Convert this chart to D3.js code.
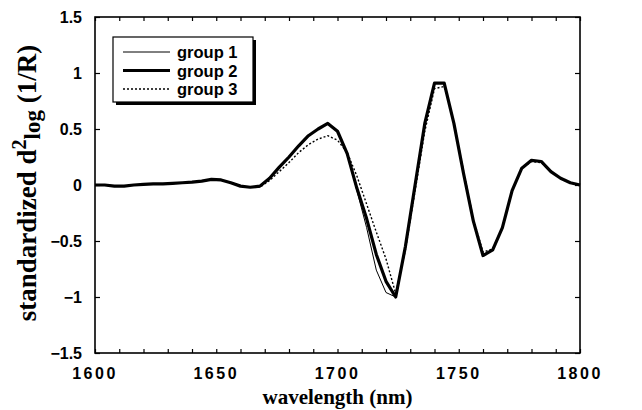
<!DOCTYPE html>
<html><head><meta charset="utf-8">
<script src="https://cdn.jsdelivr.net/npm/d3@7"></script>
<style>body{margin:0;background:#fff}</style>
</head><body>
<svg id="c" width="642" height="410"></svg>
<script>
const wavelength = [1600,1604,1608,1612,1616,1620,1624,1628,1632,1636,1640,1644,1648,1652,1656,1660,1664,1668,1672,1676,1680,1684,1688,1692,1696,1700,1704,1708,1712,1716,1720,1724,1728,1732,1736,1740,1744,1748,1752,1756,1760,1764,1768,1772,1776,1780,1784,1788,1792,1796,1800];
const group1 = [0,0,-0.01,-0.01,0,0.005,0.01,0.01,0.015,0.02,0.025,0.035,0.05,0.045,0.02,-0.01,-0.02,-0.01,0.06,0.16,0.25,0.35,0.44,0.5,0.55,0.48,0.28,-0.05,-0.38,-0.76,-0.96,-1.0,-0.55,0.0,0.55,0.91,0.91,0.55,0.1,-0.32,-0.63,-0.58,-0.38,-0.05,0.15,0.22,0.21,0.12,0.06,0.02,0.0];
const group2 = [0,0,-0.01,-0.01,0,0.005,0.01,0.01,0.015,0.02,0.025,0.035,0.05,0.045,0.02,-0.01,-0.02,-0.01,0.06,0.16,0.25,0.35,0.44,0.5,0.55,0.48,0.28,-0.03,-0.3,-0.62,-0.86,-1.0,-0.55,0.0,0.55,0.91,0.91,0.55,0.1,-0.32,-0.63,-0.58,-0.38,-0.05,0.15,0.22,0.21,0.12,0.06,0.02,0.0];
const group3 = [0,0,-0.01,-0.01,0,0.005,0.01,0.01,0.015,0.02,0.025,0.035,0.05,0.045,0.02,-0.01,-0.02,-0.02,0.04,0.12,0.2,0.29,0.36,0.41,0.44,0.4,0.29,0.08,-0.17,-0.42,-0.66,-0.97,-0.58,-0.05,0.48,0.86,0.88,0.56,0.12,-0.3,-0.6,-0.57,-0.38,-0.05,0.15,0.21,0.2,0.12,0.06,0.02,0.0];
const seriesNames = ["group 1","group 2","group 3"];
const xTicks = [1600,1650,1700,1750,1800];
const yTicks = [-1.5,-1,-0.5,0,0.5,1,1.5];

const svg = d3.select("#c");
const L=95, R=580, T=17, B=353;
const x = d3.scaleLinear().domain([1600,1800]).range([L,R]);
const y = d3.scaleLinear().domain([-1.5,1.5]).range([B,T]);

const fmtY = d => d===0 ? "0" : (d<0 ? "\u2212" : "") + Math.abs(d);
const minorX = d3.range(1600,1801,10);
svg.append("g").attr("transform",`translate(0,${B})`)
  .call(d3.axisBottom(x).tickValues(minorX).tickSizeInner(-4).tickSizeOuter(0).tickFormat(""))
  .call(g=>g.select(".domain").remove());
svg.append("g").attr("transform",`translate(0,${T})`)
  .call(d3.axisTop(x).tickValues(minorX).tickSizeInner(-4).tickSizeOuter(0).tickFormat(""))
  .call(g=>g.select(".domain").remove());
svg.append("g").attr("transform",`translate(${L},0)`)
  .call(d3.axisLeft(y).tickValues(yTicks).tickSizeInner(-5).tickSizeOuter(0).tickFormat(""))
  .call(g=>g.select(".domain").remove());
svg.append("g").attr("transform",`translate(${R},0)`)
  .call(d3.axisRight(y).tickValues(yTicks).tickSizeInner(-5).tickSizeOuter(0).tickFormat(""))
  .call(g=>g.select(".domain").remove());
svg.selectAll(".tick line").attr("stroke","#000").attr("stroke-width",1.2);

svg.append("rect").attr("x",L).attr("y",T).attr("width",R-L).attr("height",B-T)
  .attr("fill","none").attr("stroke","#000").attr("stroke-width",1.6);

svg.append("g").selectAll("text").data(xTicks).join("text")
  .attr("x",d=>x(d)).attr("y",B+26).attr("text-anchor","middle")
  .attr("font-family","Liberation Sans, Arial, sans-serif").attr("font-weight","bold")
  .attr("font-size",16).attr("letter-spacing","2.5px").text(d=>d);
svg.append("g").selectAll("text").data(yTicks).join("text")
  .attr("x",L-13).attr("y",d=>y(d)+6).attr("text-anchor","end")
  .attr("font-family","Liberation Sans, Arial, sans-serif").attr("font-weight","bold")
  .attr("font-size",16).text(fmtY);

svg.append("text").attr("x",(L+R)/2).attr("y",404).attr("text-anchor","middle")
  .attr("font-family","Liberation Serif, Times New Roman, serif").attr("font-weight","bold")
  .attr("font-size",21).text("wavelength (nm)");
const yl = svg.append("text").attr("transform",`translate(36,${(T+B)/2-2}) rotate(-90)`)
  .attr("text-anchor","middle")
  .attr("font-family","Liberation Serif, Times New Roman, serif").attr("font-weight","bold")
  .attr("font-size",27);
yl.append("tspan").text("standardized d");
yl.append("tspan").attr("dy",-10).attr("font-size",20).text("2");
yl.append("tspan").attr("dy",14).attr("font-size",23).text("log");
yl.append("tspan").attr("dy",-4).text(" (1/R)");

const data = [group1,group2,group3];
const styles = [{w:1,dash:null},{w:3.2,dash:null},{w:1.4,dash:"2,2"}];
const line = d3.line().x((d,i)=>x(wavelength[i])).y(d=>y(d));
const plot = svg.append("g");
[2,0,1].forEach(k=>{
  plot.append("path").datum(data[k]).attr("d",line).attr("fill","none")
    .attr("stroke","#000").attr("stroke-width",styles[k].w)
    .attr("stroke-linejoin","round")
    .attr("stroke-dasharray",styles[k].dash);
});

const lg = svg.append("g");
lg.append("rect").attr("x",116).attr("y",40).attr("width",140).attr("height",65).attr("fill","#000");
lg.append("rect").attr("x",113).attr("y",37).attr("width",140).attr("height",65).attr("fill","#fff")
  .attr("stroke","#000").attr("stroke-width",1.2);
seriesNames.forEach((n,k)=>{
  const yy = 52 + k*18.5;
  lg.append("line").attr("x1",123).attr("x2",170).attr("y1",yy).attr("y2",yy)
    .attr("stroke","#000").attr("stroke-width",styles[k].w).attr("stroke-dasharray",styles[k].dash);
  lg.append("text").attr("x",177).attr("y",yy+6).attr("font-family","Liberation Sans, Arial, sans-serif")
    .attr("font-weight","bold").attr("font-size",16.5).text(n);
});
</script>
</body></html>
